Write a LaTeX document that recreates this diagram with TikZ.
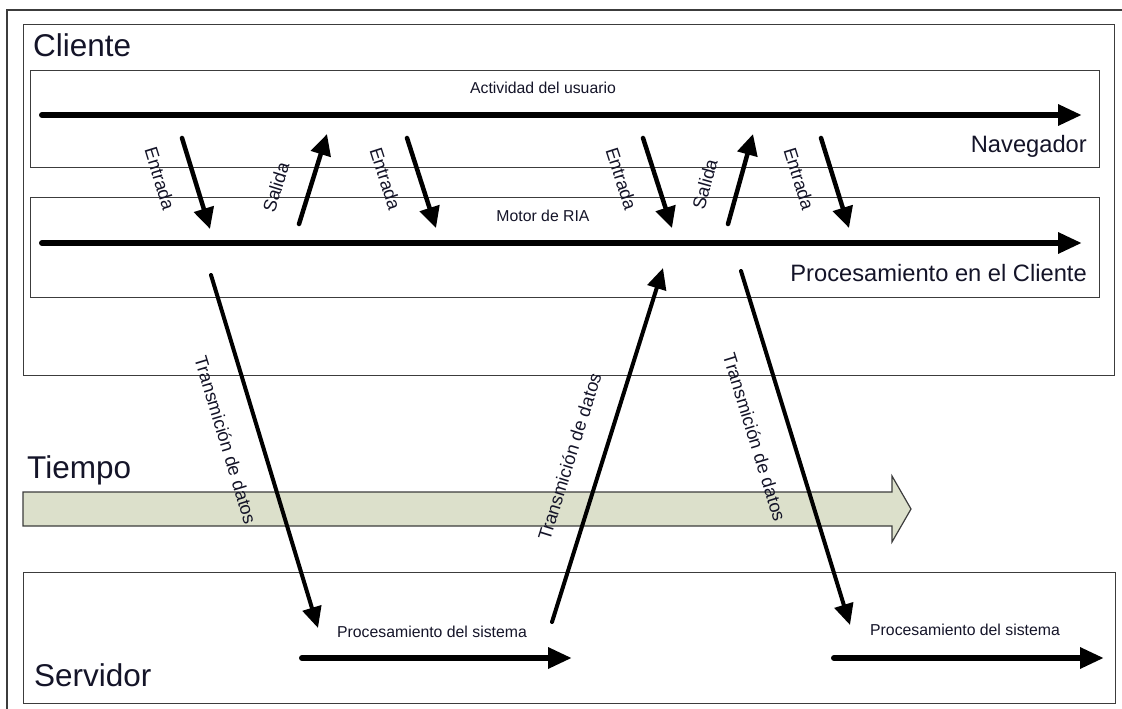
\documentclass[tikz,border=0pt]{standalone}
\usepackage{fontspec}
\setmainfont{Liberation Sans}
\usetikzlibrary{arrows.meta}

\definecolor{ink}{RGB}{20,20,40}
\definecolor{edge}{RGB}{60,60,60}
\definecolor{timefill}{RGB}{220,224,203}

\begin{document}
\begin{tikzpicture}[x=1pt,y=-1pt,
  panel/.style={draw=edge, line width=1.3pt, inner sep=0pt, anchor=north west},
  timeline/.style={line width=6pt, line cap=round, -{Triangle[length=24pt,width=20pt]}},
  flow/.style={line width=4.5pt, line cap=round, -{Triangle[length=21pt,width=20pt]}},
  transfer/.style={line width=4pt, line cap=round, -{Triangle[length=21pt,width=19pt]}},
  title/.style={inner sep=0pt, text=ink, font=\fontsize{31.5}{36}\selectfont},
  lane/.style={inner sep=0pt, text=ink, font=\fontsize{23.7}{28}\selectfont},
  small/.style={inner sep=0pt, text=ink, font=\fontsize{15.8}{18}\selectfont},
  tag/.style={inner sep=0pt, text=ink, font=\fontsize{18.3}{22}\selectfont, sloped},
]
\useasboundingbox (0,0) rectangle (1122,709);

% outer frame (only its top and left sides fall inside the page)
\draw[edge, line width=1.3pt] (7,730) -- (7,10) -- (1140,10);

% client area with its two lanes, and the server area
\node[panel, minimum width=1091pt, minimum height=351pt] (cliente) at (23,24) {};
\node[panel, minimum width=1069pt, minimum height=97pt] (nav) at (30,70) {};
\node[panel, minimum width=1069pt, minimum height=100pt] (motor) at (30,197) {};
\node[panel, minimum width=1092pt, minimum height=131pt] (servidor) at (23,572) {};

% time band
\filldraw[fill=timefill, draw=edge, line width=1.2pt]
  (23,492) -- (892,492) -- (892,476) -- (911,509) -- (892,542) -- (892,526) -- (23,526) -- cycle;

% titles
\node[title, anchor=base west] (tcli) at (33,57) {Cliente};
\node[title, anchor=base west] (ttiempo) at (27,478) {Tiempo};
\node[title, anchor=base west] (tserv) at (34,686) {Servidor};
\node[lane, anchor=base east] (tnav) at (1087,152) {Navegador};
\node[lane, anchor=base east] (tproc) at (1087,281) {Procesamiento en el Cliente};
\node[small, anchor=base] (tact) at (543,93) {Actividad del usuario};
\node[small, anchor=base] (tria) at (543,221) {Motor de RIA};
\node[small, anchor=base] (tsis1) at (432,637) {Procesamiento del sistema};
\node[small, anchor=base] (tsis2) at (965,635) {Procesamiento del sistema};

% end points of the timelines
\coordinate (navA) at (42,115);   \coordinate (navB) at (1082,115);
\coordinate (riaA) at (42,243);   \coordinate (riaB) at (1082,243);
\coordinate (srvA) at (302,658);  \coordinate (srvB) at (572,658);
\coordinate (srvC) at (834,658);  \coordinate (srvD) at (1104,658);

\draw[timeline] (navA) -- (navB);
\draw[timeline] (riaA) -- (riaB);
\draw[timeline] (srvA) -- (srvB);
\draw[timeline] (srvC) -- (srvD);

% exchanges between browser and RIA engine
\coordinate (e1a) at (182,138); \coordinate (e1b) at (210,229);
\coordinate (s1a) at (299,224); \coordinate (s1b) at (327,134);
\coordinate (e2a) at (407,138); \coordinate (e2b) at (436,228);
\coordinate (e3a) at (643,138); \coordinate (e3b) at (672,228);
\coordinate (s2a) at (728,224); \coordinate (s2b) at (753,134);
\coordinate (e4a) at (821,138); \coordinate (e4b) at (849,228);

\draw[flow] (e1a) -- node[tag, pos=0.34, below=24pt] {Entrada} (e1b);
\draw[flow] (s1a) -- node[tag, pos=0.30, above=24pt] {Salida} (s1b);
\draw[flow] (e2a) -- node[tag, pos=0.34, below=24pt] {Entrada} (e2b);
\draw[flow] (e3a) -- node[tag, pos=0.34, below=24pt] {Entrada} (e3b);
\draw[flow] (s2a) -- node[tag, pos=0.345, above=24pt] {Salida} (s2b);
\draw[flow] (e4a) -- node[tag, pos=0.345, below=24pt] {Entrada} (e4b);

% data transfers between client and server
\coordinate (d1a) at (211,275); \coordinate (d1b) at (318,628);
\coordinate (d2a) at (552,622); \coordinate (d2b) at (663,268);
\coordinate (d3a) at (741,271); \coordinate (d3b) at (850,625);

\draw[transfer] (d1a) -- node[tag, pos=0.44, below=25pt] {Transmición de datos} (d1b);
\draw[transfer] (d2a) -- node[tag, pos=0.44, above=24pt] {Transmición de datos} (d2b);
\draw[transfer] (d3a) -- node[tag, pos=0.44, below=27pt] {Transmición de datos} (d3b);
\end{tikzpicture}
\end{document}
